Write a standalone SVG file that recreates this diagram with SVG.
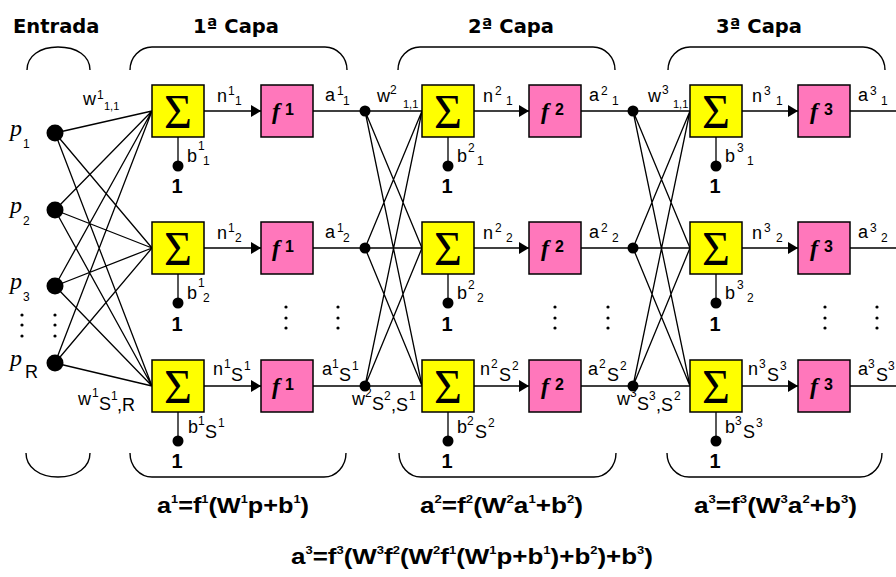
<svg xmlns="http://www.w3.org/2000/svg" width="896" height="577" viewBox="0 0 896 577">
<defs>
<style>
.t{font-family:"DejaVu Sans",sans-serif;font-weight:bold;font-size:19.5px;fill:#000}
.l{font-family:"Liberation Sans",Arial,sans-serif;font-size:18px;fill:#000}
.s{font-size:12px}
.one{font-family:"Liberation Sans",Arial,sans-serif;font-weight:bold;font-size:20px;text-anchor:middle}
.sig{fill:#ffff00;stroke:#000;stroke-width:1.5}
.fb{fill:#ff77bb;stroke:#000;stroke-width:1.5}
.sg{font-family:"Liberation Serif","Times New Roman",serif;font-size:48px;text-anchor:middle}
.ff{font-family:"Liberation Serif","Times New Roman",serif;font-style:italic;font-weight:bold;font-size:24px}
.fs{font-family:"Liberation Sans",Arial,sans-serif;font-weight:bold;font-size:16px}
.ln{stroke:#000;stroke-width:1.3;fill:none}
.br{stroke:#000;stroke-width:1.4;fill:none}
.eq{font-family:"Liberation Sans Narrow","Liberation Sans",Arial,sans-serif;font-weight:bold;font-size:22px}
.es{font-size:11px}
.p{font-family:"Liberation Serif","Times New Roman",serif;font-style:italic;font-size:24px}
.d{fill:#000}
</style>
<marker id="ar" markerUnits="userSpaceOnUse" markerWidth="10" markerHeight="12" refX="10" refY="6" orient="auto"><path d="M0,0 L10,6 L0,12 Z" fill="#000"/></marker>
</defs>
<rect width="896" height="577" fill="#fff"/>

<g id="titles">
<text class="t" x="13" y="33">Entrada</text>
<text class="t" x="236" y="33" text-anchor="middle">1ª Capa</text>
<text class="t" x="511" y="33" text-anchor="middle">2ª Capa</text>
<text class="t" x="759" y="33" text-anchor="middle">3ª Capa</text>
</g>

<g id="brackets">
<path class="br" d="M27,70 C27,56 40,47 58,47 C77,47 90,56 90,70"/>
<path class="br" d="M130,70 A22,23 0 0 1 152,47 L325,47 A22,23 0 0 1 347,70"/>
<path class="br" d="M398,70 A22,23 0 0 1 420,47 L593,47 A22,23 0 0 1 615,70"/>
<path class="br" d="M668,70 A22,23 0 0 1 690,47 L863,47 A22,23 0 0 1 885,70"/>
<path class="br" d="M26,453 C26,467 39,477 58,477 C77,477 90,467 90,453"/>
<path class="br" d="M130,453 A22,24 0 0 0 152,477 L324,477 A22,24 0 0 0 346,453"/>
<path class="br" d="M399,453 A22,24 0 0 0 421,477 L594,477 A22,24 0 0 0 616,453"/>
<path class="br" d="M667,453 A22,24 0 0 0 689,477 L860,477 A22,24 0 0 0 882,453"/>
</g>

<g id="connectors">
<path class="ln" d="M55,133 L152,111 M55,133 L152,248 M55,133 L152,386 M55,210 L152,111 M55,210 L152,248 M55,210 L152,386 M55,286 L152,111 M55,286 L152,248 M55,286 L152,386 M55,363 L152,111 M55,363 L152,248 M55,363 L152,386"/>
<path class="ln" d="M365,111 L422,248 M365,111 L422,386 M365,248 L422,111 M365,248 L422,386 M365,386 L422,111 M365,386 L422,248"/>
<path class="ln" d="M633,111 L690,248 M633,111 L690,386 M633,248 L690,111 M633,248 L690,386 M633,386 L690,111 M633,386 L690,248"/>
<path class="ln" d="M313,111 L422,111 M313,248 L422,248 M313,386 L422,386 M581,111 L690,111 M581,248 L690,248 M581,386 L690,386 M850,111 L896,111 M850,248 L896,248 M850,386 L896,386"/>
<line class="ln" x1="204" y1="111" x2="261" y2="111" marker-end="url(#ar)"/>
<line class="ln" x1="204" y1="248" x2="261" y2="248" marker-end="url(#ar)"/>
<line class="ln" x1="204" y1="386" x2="261" y2="386" marker-end="url(#ar)"/>
<line class="ln" x1="474" y1="111" x2="529" y2="111" marker-end="url(#ar)"/>
<line class="ln" x1="474" y1="248" x2="529" y2="248" marker-end="url(#ar)"/>
<line class="ln" x1="474" y1="386" x2="529" y2="386" marker-end="url(#ar)"/>
<line class="ln" x1="742" y1="111" x2="798" y2="111" marker-end="url(#ar)"/>
<line class="ln" x1="742" y1="248" x2="798" y2="248" marker-end="url(#ar)"/>
<line class="ln" x1="742" y1="386" x2="798" y2="386" marker-end="url(#ar)"/>
<path class="ln" d="M178,137 L178,165 M178,274 L178,302 M178,412 L178,440 M448,137 L448,165 M448,274 L448,302 M448,412 L448,440 M716,137 L716,165 M716,274 L716,302 M716,412 L716,440"/>
</g>

<g id="inputs">
<g id="in-p1"><circle class="d" cx="55" cy="133" r="8.5"/><text class="p" x="10" y="136">p</text><text class="l s" x="23" y="148">1</text></g>
<g id="in-p2"><circle class="d" cx="55" cy="210" r="8.5"/><text class="p" x="10" y="213">p</text><text class="l s" x="23" y="225">2</text></g>
<g id="in-p3"><circle class="d" cx="55" cy="286" r="8.5"/><text class="p" x="10" y="289">p</text><text class="l s" x="23" y="301">3</text></g>
<g id="in-pR"><circle class="d" cx="55" cy="363" r="8.5"/><text class="p" x="10" y="366">p</text><text class="l" x="25" y="378" font-size="15">R</text></g>
</g>

<g id="ellipsis">
<circle class="d" cx="22" cy="315" r="1.6"/><circle class="d" cx="22" cy="325" r="1.6"/><circle class="d" cx="22" cy="336" r="1.6"/>
<circle class="d" cx="55" cy="315" r="1.6"/><circle class="d" cx="55" cy="325" r="1.6"/><circle class="d" cx="55" cy="336" r="1.6"/>
<circle class="d" cx="286" cy="307" r="1.6"/><circle class="d" cx="286" cy="318" r="1.6"/><circle class="d" cx="286" cy="328" r="1.6"/>
<circle class="d" cx="338" cy="307" r="1.6"/><circle class="d" cx="338" cy="318" r="1.6"/><circle class="d" cx="338" cy="328" r="1.6"/>
<circle class="d" cx="555" cy="307" r="1.6"/><circle class="d" cx="555" cy="318" r="1.6"/><circle class="d" cx="555" cy="328" r="1.6"/>
<circle class="d" cx="608" cy="307" r="1.6"/><circle class="d" cx="608" cy="318" r="1.6"/><circle class="d" cx="608" cy="328" r="1.6"/>
<circle class="d" cx="825" cy="307" r="1.6"/><circle class="d" cx="825" cy="318" r="1.6"/><circle class="d" cx="825" cy="328" r="1.6"/>
<circle class="d" cx="877" cy="307" r="1.6"/><circle class="d" cx="877" cy="318" r="1.6"/><circle class="d" cx="877" cy="328" r="1.6"/>
</g>

<g id="junctions">
<circle class="d" cx="365" cy="111" r="5.5"/><circle class="d" cx="365" cy="248" r="5.5"/><circle class="d" cx="365" cy="386" r="5.5"/>
<circle class="d" cx="633" cy="111" r="5.5"/><circle class="d" cx="633" cy="248" r="5.5"/><circle class="d" cx="633" cy="386" r="5.5"/>
</g>

<g id="bias">
<circle class="d" cx="178" cy="166" r="5.5"/><circle class="d" cx="178" cy="303" r="5.5"/><circle class="d" cx="178" cy="441" r="5.5"/>
<circle class="d" cx="448" cy="166" r="5.5"/><circle class="d" cx="448" cy="303" r="5.5"/><circle class="d" cx="448" cy="441" r="5.5"/>
<circle class="d" cx="716" cy="166" r="5.5"/><circle class="d" cx="716" cy="303" r="5.5"/><circle class="d" cx="716" cy="441" r="5.5"/>
<text class="one" x="177" y="193">1</text><text class="one" x="177" y="331">1</text><text class="one" x="177" y="468">1</text>
<text class="one" x="447" y="193">1</text><text class="one" x="447" y="331">1</text><text class="one" x="447" y="468">1</text>
<text class="one" x="715" y="193">1</text><text class="one" x="715" y="331">1</text><text class="one" x="715" y="468">1</text>
</g>

<g id="sum-1-1"><rect class="sig" x="152" y="85" width="52" height="52"/><text class="sg" x="178" y="128">Σ</text></g>
<g id="sum-1-2"><rect class="sig" x="152" y="222" width="52" height="52"/><text class="sg" x="178" y="265">Σ</text></g>
<g id="sum-1-3"><rect class="sig" x="152" y="360" width="52" height="52"/><text class="sg" x="178" y="403">Σ</text></g>
<g id="sum-2-1"><rect class="sig" x="422" y="85" width="52" height="52"/><text class="sg" x="448" y="128">Σ</text></g>
<g id="sum-2-2"><rect class="sig" x="422" y="222" width="52" height="52"/><text class="sg" x="448" y="265">Σ</text></g>
<g id="sum-2-3"><rect class="sig" x="422" y="360" width="52" height="52"/><text class="sg" x="448" y="403">Σ</text></g>
<g id="sum-3-1"><rect class="sig" x="690" y="85" width="52" height="52"/><text class="sg" x="716" y="128">Σ</text></g>
<g id="sum-3-2"><rect class="sig" x="690" y="222" width="52" height="52"/><text class="sg" x="716" y="265">Σ</text></g>
<g id="sum-3-3"><rect class="sig" x="690" y="360" width="52" height="52"/><text class="sg" x="716" y="403">Σ</text></g>

<g id="f-1-1"><rect class="fb" x="261" y="85" width="52" height="52"/><text class="ff" x="272" y="119">f</text><text class="fs" x="285" y="115">1</text></g>
<g id="f-1-2"><rect class="fb" x="261" y="222" width="52" height="52"/><text class="ff" x="272" y="256">f</text><text class="fs" x="285" y="252">1</text></g>
<g id="f-1-3"><rect class="fb" x="261" y="360" width="52" height="52"/><text class="ff" x="272" y="394">f</text><text class="fs" x="285" y="390">1</text></g>
<g id="f-2-1"><rect class="fb" x="529" y="85" width="52" height="52"/><text class="ff" x="541" y="119">f</text><text class="fs" x="555" y="115">2</text></g>
<g id="f-2-2"><rect class="fb" x="529" y="222" width="52" height="52"/><text class="ff" x="541" y="256">f</text><text class="fs" x="555" y="252">2</text></g>
<g id="f-2-3"><rect class="fb" x="529" y="360" width="52" height="52"/><text class="ff" x="541" y="394">f</text><text class="fs" x="555" y="390">2</text></g>
<g id="f-3-1"><rect class="fb" x="798" y="85" width="52" height="52"/><text class="ff" x="810" y="119">f</text><text class="fs" x="824" y="115">3</text></g>
<g id="f-3-2"><rect class="fb" x="798" y="222" width="52" height="52"/><text class="ff" x="810" y="256">f</text><text class="fs" x="824" y="252">3</text></g>
<g id="f-3-3"><rect class="fb" x="798" y="360" width="52" height="52"/><text class="ff" x="810" y="394">f</text><text class="fs" x="824" y="390">3</text></g>

<g id="labels" class="l">
<text><tspan x="83" y="105">w</tspan><tspan class="s" x="97" y="99">1</tspan><tspan font-size="11" x="104" y="110">1,1</tspan></text>
<text><tspan x="377" y="102">w</tspan><tspan class="s" x="390" y="94">2</tspan><tspan font-size="11" x="403" y="108">1,1</tspan></text>
<text><tspan x="648" y="102">w</tspan><tspan class="s" x="662" y="94">3</tspan><tspan font-size="11" x="673" y="108">1,1</tspan></text>

<text><tspan x="217" y="102">n</tspan><tspan class="s" x="228" y="95">1</tspan><tspan class="s" x="235" y="105">1</tspan></text>
<text><tspan x="325" y="101">a</tspan><tspan class="s" x="337" y="95">1</tspan><tspan class="s" x="343" y="105">1</tspan></text>
<text><tspan x="187" y="162">b</tspan><tspan class="s" x="198" y="150">1</tspan><tspan class="s" x="203" y="165">1</tspan></text>
<text><tspan x="217" y="239">n</tspan><tspan class="s" x="228" y="232">1</tspan><tspan class="s" x="235" y="242">2</tspan></text>
<text><tspan x="325" y="238">a</tspan><tspan class="s" x="337" y="232">1</tspan><tspan class="s" x="343" y="242">2</tspan></text>
<text><tspan x="187" y="299">b</tspan><tspan class="s" x="198" y="287">1</tspan><tspan class="s" x="203" y="302">2</tspan></text>

<text><tspan x="483" y="102">n</tspan><tspan class="s" x="495" y="95">2</tspan><tspan class="s" x="506" y="105">1</tspan></text>
<text><tspan x="589" y="101">a</tspan><tspan class="s" x="601" y="95">2</tspan><tspan class="s" x="612" y="105">1</tspan></text>
<text><tspan x="457" y="162">b</tspan><tspan class="s" x="468" y="152">2</tspan><tspan class="s" x="477" y="165">1</tspan></text>
<text><tspan x="483" y="239">n</tspan><tspan class="s" x="495" y="232">2</tspan><tspan class="s" x="506" y="242">2</tspan></text>
<text><tspan x="589" y="238">a</tspan><tspan class="s" x="601" y="232">2</tspan><tspan class="s" x="612" y="242">2</tspan></text>
<text><tspan x="457" y="299">b</tspan><tspan class="s" x="468" y="289">2</tspan><tspan class="s" x="477" y="302">2</tspan></text>

<text><tspan x="752" y="102">n</tspan><tspan class="s" x="764" y="95">3</tspan><tspan class="s" x="776" y="105">1</tspan></text>
<text><tspan x="858" y="101">a</tspan><tspan class="s" x="870" y="95">3</tspan><tspan class="s" x="881" y="105">1</tspan></text>
<text><tspan x="725" y="162">b</tspan><tspan class="s" x="737" y="152">3</tspan><tspan class="s" x="747" y="165">1</tspan></text>
<text><tspan x="752" y="239">n</tspan><tspan class="s" x="764" y="232">3</tspan><tspan class="s" x="776" y="242">2</tspan></text>
<text><tspan x="858" y="238">a</tspan><tspan class="s" x="870" y="232">3</tspan><tspan class="s" x="881" y="242">2</tspan></text>
<text><tspan x="725" y="299">b</tspan><tspan class="s" x="737" y="289">3</tspan><tspan class="s" x="747" y="302">2</tspan></text>

<text><tspan x="213" y="375">n</tspan><tspan class="s" x="224" y="368">1</tspan><tspan x="231" y="381">S</tspan><tspan class="s" x="244" y="370">1</tspan></text>
<text><tspan x="322" y="375">a</tspan><tspan class="s" x="332" y="368">1</tspan><tspan x="339" y="381">S</tspan><tspan class="s" x="352" y="370">1</tspan></text>
<text><tspan x="188" y="433">b</tspan><tspan class="s" x="198" y="425">1</tspan><tspan x="205" y="438">S</tspan><tspan class="s" x="218" y="427">1</tspan></text>
<text><tspan x="78" y="405">w</tspan><tspan class="s" x="92" y="397">1</tspan><tspan x="99" y="410">S</tspan><tspan class="s" x="111" y="400">1</tspan><tspan x="117" y="411">,R</tspan></text>

<text><tspan x="480" y="375">n</tspan><tspan class="s" x="491" y="368">2</tspan><tspan x="499" y="381">S</tspan><tspan class="s" x="512" y="370">2</tspan></text>
<text><tspan x="588" y="375">a</tspan><tspan class="s" x="599" y="368">2</tspan><tspan x="607" y="381">S</tspan><tspan class="s" x="620" y="370">2</tspan></text>
<text><tspan x="457" y="433">b</tspan><tspan class="s" x="467" y="425">2</tspan><tspan x="475" y="438">S</tspan><tspan class="s" x="488" y="427">2</tspan></text>
<text><tspan x="352" y="405">w</tspan><tspan class="s" x="365" y="397">2</tspan><tspan x="372" y="410">S</tspan><tspan class="s" x="384" y="400">2</tspan><tspan x="391" y="411">,S</tspan><tspan class="s" x="409" y="400">1</tspan></text>

<text><tspan x="748" y="375">n</tspan><tspan class="s" x="759" y="368">3</tspan><tspan x="767" y="381">S</tspan><tspan class="s" x="780" y="370">3</tspan></text>
<text><tspan x="858" y="375">a</tspan><tspan class="s" x="868" y="368">3</tspan><tspan x="876" y="381">S</tspan><tspan class="s" x="888" y="370">3</tspan></text>
<text><tspan x="725" y="433">b</tspan><tspan class="s" x="735" y="425">3</tspan><tspan x="743" y="438">S</tspan><tspan class="s" x="756" y="427">3</tspan></text>
<text><tspan x="617" y="405">w</tspan><tspan class="s" x="630" y="397">3</tspan><tspan x="637" y="410">S</tspan><tspan class="s" x="649" y="400">3</tspan><tspan x="656" y="411">,S</tspan><tspan class="s" x="674" y="400">2</tspan></text>
</g>

<g id="equations" class="eq">
<text x="157" y="513" textLength="152" lengthAdjust="spacingAndGlyphs">a<tspan class="es" dy="-10">1</tspan><tspan dy="10">=f</tspan><tspan class="es" dy="-10">1</tspan><tspan dy="10">(W</tspan><tspan class="es" dy="-10">1</tspan><tspan dy="10">p+b</tspan><tspan class="es" dy="-10">1</tspan><tspan dy="10">)</tspan></text>
<text x="420" y="513" textLength="163" lengthAdjust="spacingAndGlyphs">a<tspan class="es" dy="-10">2</tspan><tspan dy="10">=f</tspan><tspan class="es" dy="-10">2</tspan><tspan dy="10">(W</tspan><tspan class="es" dy="-10">2</tspan><tspan dy="10">a</tspan><tspan class="es" dy="-10">1</tspan><tspan dy="10">+b</tspan><tspan class="es" dy="-10">2</tspan><tspan dy="10">)</tspan></text>
<text x="694" y="513" textLength="163" lengthAdjust="spacingAndGlyphs">a<tspan class="es" dy="-10">3</tspan><tspan dy="10">=f</tspan><tspan class="es" dy="-10">3</tspan><tspan dy="10">(W</tspan><tspan class="es" dy="-10">3</tspan><tspan dy="10">a</tspan><tspan class="es" dy="-10">2</tspan><tspan dy="10">+b</tspan><tspan class="es" dy="-10">3</tspan><tspan dy="10">)</tspan></text>
<text x="291" y="564" textLength="362" lengthAdjust="spacingAndGlyphs">a<tspan class="es" dy="-10">3</tspan><tspan dy="10">=f</tspan><tspan class="es" dy="-10">3</tspan><tspan dy="10">(W</tspan><tspan class="es" dy="-10">3</tspan><tspan dy="10">f</tspan><tspan class="es" dy="-10">2</tspan><tspan dy="10">(W</tspan><tspan class="es" dy="-10">2</tspan><tspan dy="10">f</tspan><tspan class="es" dy="-10">1</tspan><tspan dy="10">(W</tspan><tspan class="es" dy="-10">1</tspan><tspan dy="10">p+b</tspan><tspan class="es" dy="-10">1</tspan><tspan dy="10">)+b</tspan><tspan class="es" dy="-10">2</tspan><tspan dy="10">)+b</tspan><tspan class="es" dy="-10">3</tspan><tspan dy="10">)</tspan></text>
</g>
</svg>
